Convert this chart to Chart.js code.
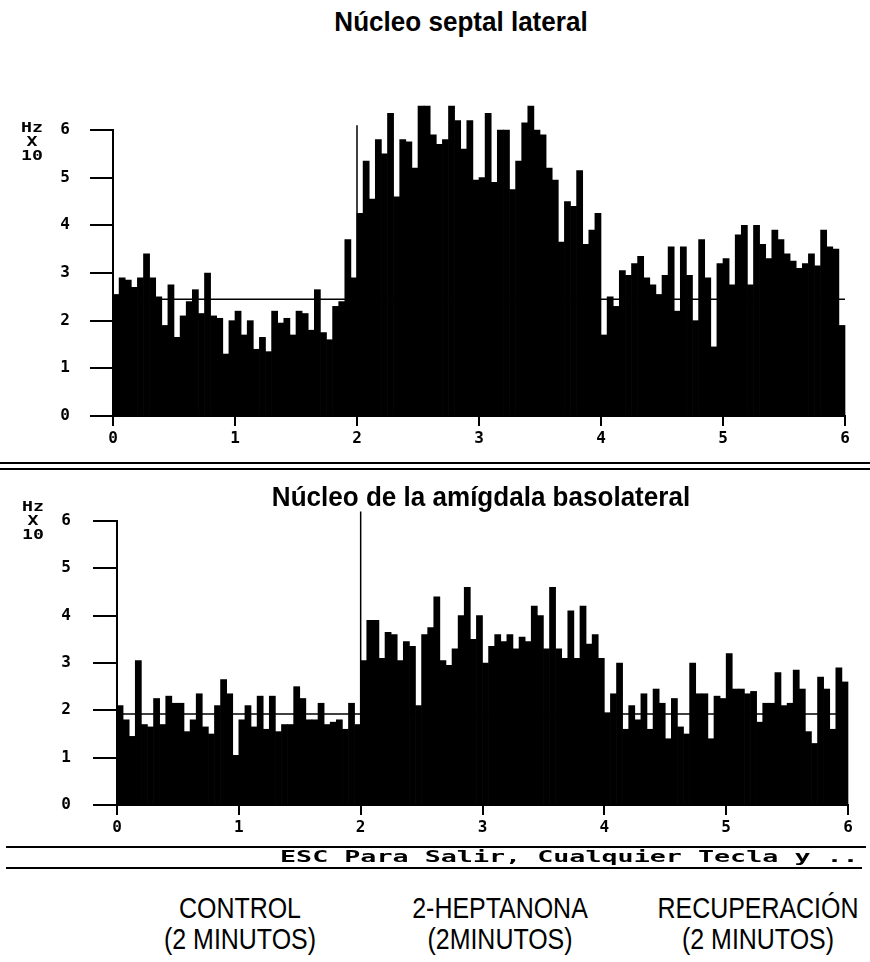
<!DOCTYPE html>
<html>
<head>
<meta charset="utf-8">
<script src="https://cdn.jsdelivr.net/npm/chart.js@4"></script>
<style>
  body { margin: 0; background: #fff; width: 870px; height: 962px; position: relative; overflow: hidden; }
  canvas { position: absolute; left: 0; }
  .txt { position: absolute; white-space: nowrap; color: #000; z-index: 2; }
  .title { font-family: "Liberation Sans", Arial, sans-serif; font-weight: bold; font-size: 28px; transform: translate(-50%, -50%) scaleX(0.93); }
  .unit { font-family: "DejaVu Sans Mono", monospace; font-weight: bold; font-size: 14px; line-height: 14px; text-align: center; width: 30px; transform: scaleX(1.3); }
  .rule { position: absolute; background: #000; height: 2px; }
  .esc { font-family: "DejaVu Sans Mono", monospace; font-weight: bold; font-size: 15px; transform-origin: left center; transform: scaleX(1.78); }
  .fase { font-family: "Liberation Sans", Arial, sans-serif; font-size: 29px; text-align: center; line-height: 31px; transform: translateX(-50%) scaleX(0.86); }
</style>
</head>
<body>
<div class="txt title" style="left:461px;top:22px">Núcleo septal lateral</div>
<div class="txt unit" style="left:17px;top:120px">Hz<br>X<br>10</div>
<canvas id="septal" width="870" height="380" style="top:80px"></canvas>

<div class="rule" style="left:0;width:870px;top:462px"></div>
<div class="rule" style="left:0;width:870px;top:468px;height:1.5px"></div>

<div class="txt title" style="left:481px;top:497px">Núcleo de la amígdala basolateral</div>
<div class="txt unit" style="left:18px;top:499px">Hz<br>X<br>10</div>
<canvas id="amigdala" width="870" height="380" style="top:470px"></canvas>

<div class="rule" style="left:6px;width:860px;top:846px"></div>
<div class="txt esc" style="left:280px;top:848px">ESC Para Salir, Cualquier Tecla y ..</div>
<div class="rule" style="left:6px;width:856px;top:867px;height:1.5px"></div>

<div class="txt fase" style="left:240px;top:893px">CONTROL<br>(2 MINUTOS)</div>
<div class="txt fase" style="left:500px;top:893px">2-HEPTANONA<br>(2MINUTOS)</div>
<div class="txt fase" style="left:758px;top:893px">RECUPERACIÓN<br>(2 MINUTOS)</div>

<script>
// bins de 3 segundos (20 por minuto), Hz x 10
const binMin = 0.05;
const tickLabels = ["0", "1", "2", "3", "4", "5", "6"];

// Núcleo septal lateral
const septalControl = [
  2.55, 2.9, 2.85, 2.7, 2.9, 3.4, 2.9, 2.5, 1.9, 2.75,
  1.65, 2.1, 2.4, 2.65, 2.15, 3.0, 2.1, 2.05, 1.3, 2.0,
  2.2, 1.7, 2.0, 1.4, 1.65, 1.35, 2.2, 1.95, 2.05, 1.7,
  2.2, 2.15, 1.8, 2.65, 1.75, 1.6, 2.3, 2.4, 3.7, 2.9
];
const septalHeptanona = [
  4.25, 5.35, 4.55, 5.8, 5.5, 6.35, 4.6, 5.8, 5.75, 5.2,
  6.5, 6.5, 5.9, 5.7, 5.8, 6.5, 6.2, 5.6, 6.2, 4.95,
  5.0, 6.35, 4.9, 6.0, 6.0, 4.75, 5.35, 6.15, 6.5, 6.0,
  5.9, 5.2, 4.95, 3.65, 4.5, 4.4, 5.15, 3.6, 3.9, 4.25
];
const septalRecuperacion = [
  1.7, 2.5, 2.3, 3.05, 2.95, 3.2, 3.35, 2.9, 2.75, 2.55,
  2.95, 3.55, 2.2, 3.55, 2.95, 2.0, 3.7, 2.9, 1.45, 3.2,
  3.3, 2.75, 3.8, 4.0, 2.75, 4.0, 3.6, 3.3, 3.9, 3.7,
  3.4, 3.25, 3.1, 3.2, 3.4, 3.15, 3.9, 3.55, 3.5, 1.9
];
const septalMedia = 2.45;
const septalMarca = 6.1;

// Núcleo de la amígdala basolateral
const amigdalaControl = [
  2.1, 1.8, 1.45, 3.05, 1.7, 1.65, 2.25, 1.7, 2.3, 2.15,
  2.15, 1.55, 1.8, 2.35, 1.65, 1.5, 2.1, 2.65, 2.35, 1.05,
  1.8, 2.1, 1.65, 2.3, 1.6, 2.3, 1.55, 1.7, 1.7, 2.5,
  2.25, 1.8, 1.8, 2.15, 1.7, 1.75, 1.8, 1.6, 2.15, 1.7
];
const amigdalaHeptanona = [
  3.05, 3.9, 3.9, 3.1, 3.65, 3.6, 3.05, 3.45, 3.35, 2.1,
  3.6, 3.75, 4.4, 3.05, 2.95, 3.3, 4.0, 4.6, 3.5, 4.0,
  3.0, 3.35, 3.6, 3.45, 3.6, 3.3, 3.55, 3.45, 4.2, 4.0,
  3.3, 4.6, 3.3, 3.1, 4.1, 3.1, 4.2, 3.4, 3.6, 3.1
];
const amigdalaRecuperacion = [
  1.95, 2.35, 3.0, 1.6, 2.1, 1.8, 2.35, 1.6, 2.45, 2.15,
  1.4, 2.25, 1.65, 1.5, 3.0, 2.35, 2.35, 1.4, 2.3, 2.25,
  3.2, 2.45, 2.45, 2.35, 2.4, 1.75, 2.15, 2.15, 2.8, 2.1,
  2.15, 2.85, 2.45, 1.55, 1.3, 2.7, 2.45, 1.6, 2.9, 2.6
];
const amigdalaMedia = 1.92;
const amigdalaMarca = 6.2;

const tickFont = { family: "DejaVu Sans Mono", weight: "bold", size: 16 };

function makeChart(id, values, media, marca, g) {
  const bins = values.map((v, i) => ({ x: (i + 0.5) * binMin, y: v }));
  return new Chart(document.getElementById(id), {
    type: "bar",
    data: {
      datasets: [
        {
          type: "line",
          data: [{ x: 0, y: media }, { x: 6, y: media }],
          borderColor: "#000", borderWidth: 1.5, pointRadius: 0, clip: false
        },
        {
          type: "line",
          data: [{ x: 2, y: 0 }, { x: 2, y: marca }],
          borderColor: "#000", borderWidth: 1.5, pointRadius: 0, clip: false
        },
        {
          data: bins,
          backgroundColor: "#000", borderColor: "#000", borderWidth: 0,
          barPercentage: 1, categoryPercentage: 1, clip: false
        }
      ]
    },
    options: {
      responsive: false,
      animation: false,
      layout: { padding: { top: g.top, right: g.right, left: 0, bottom: 0 } },
      plugins: { legend: { display: false }, tooltip: { enabled: false } },
      scales: {
        x: {
          type: "linear", min: 0, max: 6, offset: false,
          grid: { display: true, drawOnChartArea: false, offset: false, tickLength: 10, color: "#000", lineWidth: 2 },
          border: { color: "#000", width: 2 },
          ticks: { stepSize: 1, padding: 3, color: "#000", font: tickFont, maxRotation: 0,
                   callback: (v) => tickLabels[v] },
          afterFit: (s) => { s.height = g.xh; }
        },
        y: {
          min: 0, max: 6,
          grid: { display: true, drawOnChartArea: false, tickLength: g.tick, color: "#000", lineWidth: 2 },
          border: { color: "#000", width: 2 },
          ticks: { stepSize: 1, padding: g.pad, color: "#000", font: tickFont,
                   callback: (v) => tickLabels[v] },
          afterFit: (s) => { s.width = g.yw; }
        }
      }
    }
  });
}

makeChart("septal",
  septalControl.concat(septalHeptanona, septalRecuperacion),
  septalMedia, septalMarca,
  { top: 50, right: 25, xh: 44, yw: 113, tick: 23, pad: 20 });

makeChart("amigdala",
  amigdalaControl.concat(amigdalaHeptanona, amigdalaRecuperacion),
  amigdalaMedia, amigdalaMarca,
  { top: 51, right: 22, xh: 45, yw: 117, tick: 24, pad: 22 });
</script>
</body>
</html>
